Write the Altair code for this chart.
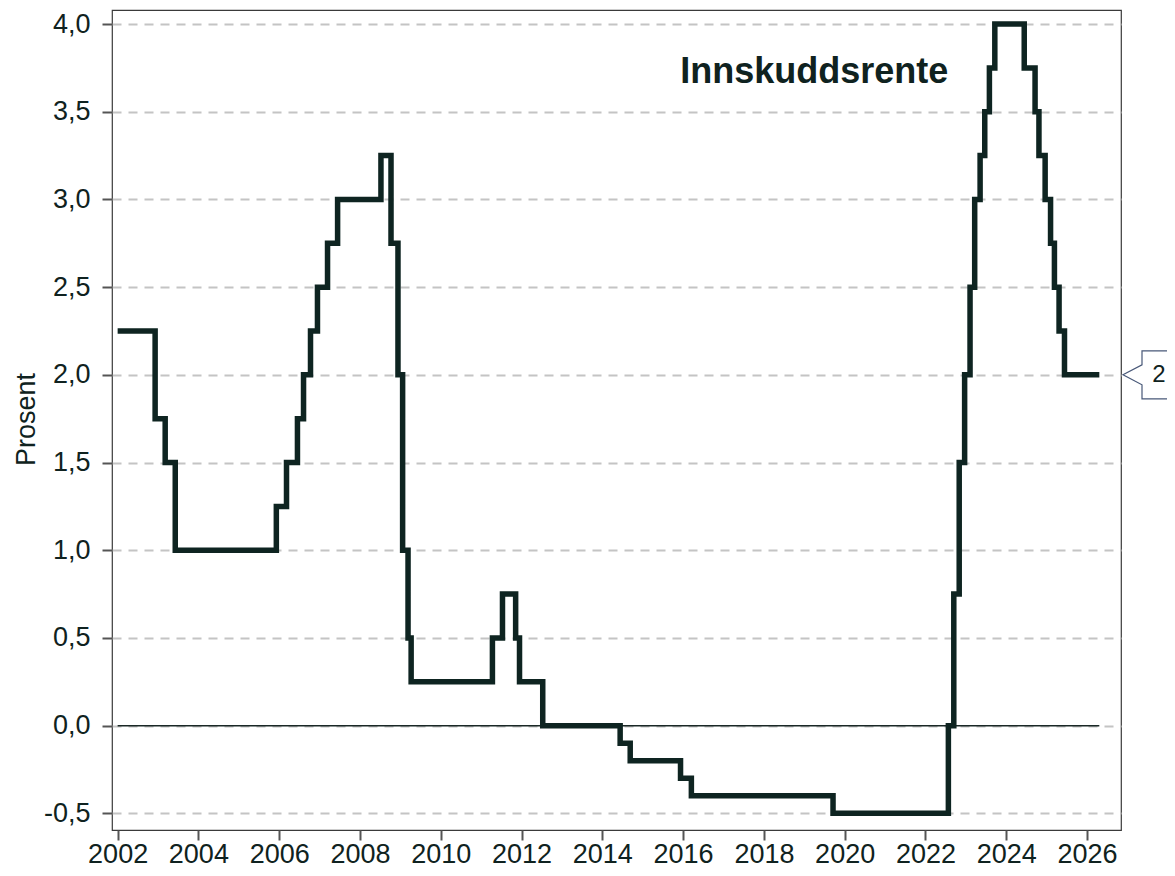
import altair as alt
import pandas as pd

# Step dates and deposit rate (percent)
dates = ["2002-01-01", "2002-12-06", "2003-03-07", "2003-06-06", "2005-12-06",
         "2006-03-08", "2006-06-15", "2006-08-09", "2006-10-11", "2006-12-13",
         "2007-03-14", "2007-06-13", "2008-07-09", "2008-10-08", "2008-12-10",
         "2009-01-21", "2009-03-11", "2009-04-08", "2011-04-13", "2011-07-13",
         "2011-11-09", "2011-12-14", "2012-07-11", "2014-06-11", "2014-09-10",
         "2015-12-09", "2016-03-16", "2019-09-18", "2022-07-27", "2022-09-14",
         "2022-11-02", "2022-12-21", "2023-02-08", "2023-03-22", "2023-05-10",
         "2023-06-21", "2023-08-02", "2023-09-20", "2024-06-12", "2024-09-18",
         "2024-10-23", "2024-12-18", "2025-02-05", "2025-03-12", "2025-04-23",
         "2025-06-11", "2026-04-22"]
rates = [2.25, 1.75, 1.50, 1.00, 1.25,
         1.50, 1.75, 2.00, 2.25, 2.50,
         2.75, 3.00, 3.25, 2.75, 2.00,
         1.00, 0.50, 0.25, 0.50, 0.75,
         0.50, 0.25, 0.00, -0.10, -0.20,
         -0.30, -0.40, -0.50, 0.00, 0.75,
         1.50, 2.00, 2.50, 3.00, 3.25,
         3.50, 3.75, 4.00, 3.75, 3.50,
         3.25, 3.00, 2.75, 2.50, 2.25,
         2.00, 2.00]

y_ticks = [-0.5, 0.0, 0.5, 1.0, 1.5, 2.0, 2.5, 3.0, 3.5, 4.0]
x_tick_years = list(range(2002, 2027, 2))
series_title = "Innskuddsrente"
y_title = "Prosent"
last_label = "2"

df = pd.DataFrame({"date": dates, "rate": rates})
zero_df = pd.DataFrame({"start": [dates[0]], "end": [dates[-1]], "y": [0.0]})
last_df = pd.DataFrame({"rate": [rates[-1]], "label": [last_label]})

FONT = "Liberation Sans"
INK = "#0f2220"
LINE = "#0e2421"

x_scale = alt.Scale(
    domain=[alt.DateTime(year=2001, month=11, date=11, utc=True),
            alt.DateTime(year=2026, month=11, date=4, utc=True)],
    nice=False,
)
y_scale = alt.Scale(domain=[-0.595, 4.08], nice=False, zero=False)

x_axis = alt.Axis(
    values=[alt.DateTime(year=y, month=1, date=1, utc=True) for y in x_tick_years],
    format="%Y", title=None, grid=False, domain=False,
    tickSize=10, tickWidth=2, tickColor="#555555",
    labelFontSize=27, labelPadding=1, labelColor=INK, labelFont=FONT,
)
y_axis = alt.Axis(
    values=y_ticks, title=y_title, domain=False,
    labelExpr="replace(replace(format(datum.value, '.1f'), '.', ','), '\u2212', '-')",
    grid=True, gridColor="#c4c4c4", gridDash=[9, 7], gridWidth=2,
    tickSize=10, tickWidth=2, tickColor="#555555",
    labelFontSize=27, labelPadding=12, labelColor=INK, labelFont=FONT,
    titleFontSize=27, titleFont=FONT, titleFontWeight="normal", titleColor=INK,
    titleAngle=270, titleX=-86, titleY=409, titleAlign="center", titleBaseline="middle",
)

zero = alt.Chart(zero_df).mark_rule(color="#1a2826", strokeWidth=1.5).encode(
    x=alt.X("start:T", scale=x_scale, axis=x_axis),
    x2="end:T",
    y=alt.Y("y:Q", scale=y_scale, axis=y_axis),
)

line = alt.Chart(df).mark_line(
    interpolate="step-after", color=LINE, strokeWidth=5.5, strokeJoin="miter"
).encode(
    x=alt.X("date:T", scale=x_scale, axis=x_axis),
    y=alt.Y("rate:Q", scale=y_scale, axis=y_axis),
)

title_txt = alt.Chart(pd.DataFrame({"t": [series_title]})).mark_text(
    font=FONT, fontSize=36, fontWeight="bold", color=INK,
    align="center", baseline="middle",
).encode(
    x=alt.datum(alt.DateTime(year=2019, month=4, date=1, utc=True)),
    y=alt.datum(3.726),
    text="t:N",
)

callout = alt.Chart(last_df).mark_point(
    shape="M 80 -24 L 19 -24 L 19 -10 L 0 0 L 19 10 L 19 24 L 80 24",
    size=4, filled=False, stroke="#485878", strokeWidth=1.2, opacity=1,
).encode(
    x=alt.value(1011),
    y=alt.Y("rate:Q", scale=y_scale, axis=y_axis),
)

callout_txt = alt.Chart(last_df).mark_text(
    font=FONT, fontSize=24, color=INK, align="center", baseline="middle",
).encode(
    x=alt.value(1047),
    y=alt.Y("rate:Q", scale=y_scale, axis=y_axis),
    text="label:N",
)

chart = alt.layer(zero, line, title_txt, callout, callout_txt).properties(
    width=1009, height=820,
    autosize=alt.AutoSizeParams(type="none"),
    padding={"left": 104, "top": 2, "right": 46, "bottom": 38},
).configure(
    background="white"
).configure_view(
    stroke="#3a3a3a", strokeWidth=1.2
)

chart.save("out.html", embed_options={"renderer": "svg", "actions": False})
